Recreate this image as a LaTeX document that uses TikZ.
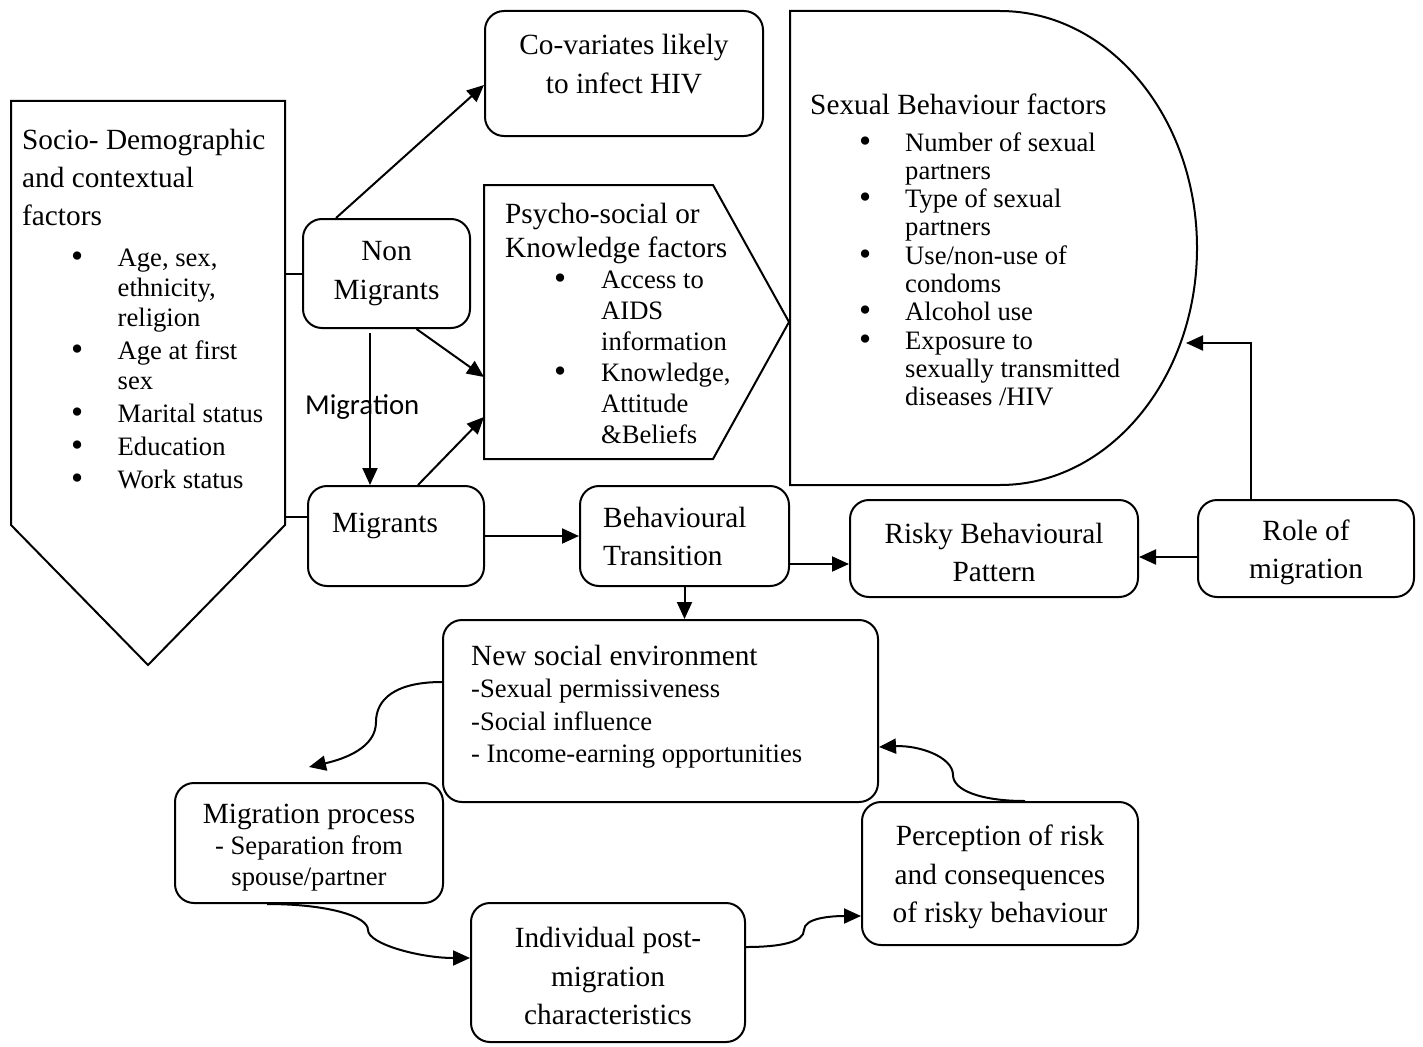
\documentclass[tikz,border=0pt]{standalone}
\usepackage{fontspec}
\setmainfont{Liberation Serif}
\newfontfamily\calibri{Carlito}
\usetikzlibrary{arrows.meta}
\newcommand\bigfs{\fontsize{29.3}{38.5}\selectfont}
\newcommand\smallfs{\fontsize{26.6}{30}\selectfont}
\newcommand\bul{\smash{\raisebox{-0.04em}{\scalebox{1.3}{\textbullet}}}}
\newcommand\tstrut{\rule{0pt}{28pt}}
\tikzset{
  box/.style={draw, rounded corners=19pt, line width=2pt, inner sep=0pt, align=center, font=\bigfs},
  outline/.style={draw, line width=2pt, line join=miter},
  txt/.style={inner sep=0pt, anchor=base west},
  ctxt/.style={inner sep=0pt, anchor=base},
  arr/.style={-{Triangle[length=17pt,width=15pt]}, line width=2pt},
  link/.style={line width=2pt}
}
\begin{document}
\begin{tikzpicture}[x=1pt,y=-1pt]
\useasboundingbox (0,0) rectangle (1423,1046);

% the three big shapes
\draw[outline] (11,101) -- (285,101) -- (285,525) -- (148,665) -- (11,525) -- cycle;
\draw[outline] (484,185) -- (713,185) -- (789,322) -- (713,459) -- (484,459) -- cycle;
\draw[outline] (790,11) -- (1000,11) arc[start angle=90, end angle=-90, x radius=197pt, y radius=237pt] -- (790,485) -- cycle;
\coordinate (sdn) at (285,273.5);
\coordinate (sdm) at (285,517);
\coordinate (psyin1) at (484,377);
\coordinate (psyin2) at (484,417);
\coordinate (sbfin) at (1186,343);

\node[txt] (sdhead) at (22,149) {\bigfs\begin{tabular}[t]{@{}l@{}}Socio- Demographic\\and contextual\\factors\end{tabular}};
\node[txt] (sdlist) at (71,266) {\smallfs\begin{tabular}[t]{@{}p{46.5pt}@{}l@{}}
  \bul & Age, sex,\\ & ethnicity,\\ & religion\\[3pt]
  \bul & Age at first\\ & sex\\[3pt]
  \bul & Marital status\\[3pt]
  \bul & Education\\[3pt]
  \bul & Work status\end{tabular}};

\node[txt] (psyhead) at (505,223) {\fontsize{29.3}{34}\selectfont\begin{tabular}[t]{@{}l@{}}Psycho-social or\\Knowledge factors\end{tabular}};
\node[txt] (psylist) at (554,288) {\fontsize{26.6}{31}\selectfont\begin{tabular}[t]{@{}p{47pt}@{}l@{}}
  \bul & Access to\\ & AIDS\\ & information\\
  \bul & Knowledge,\\ & Attitude\\ & \&Beliefs\end{tabular}};

\node[txt] (sbfhead) at (810,114) {\bigfs Sexual Behaviour factors};
\node[txt] (sbflist) at (859,151) {\fontsize{26.6}{28.3}\selectfont\begin{tabular}[t]{@{}p{46pt}@{}l@{}}
  \bul & Number of sexual\\ & partners\\
  \bul & Type of sexual\\ & partners\\
  \bul & Use/non-use of\\ & condoms\\
  \bul & Alcohol use\\
  \bul & Exposure to\\ & sexually transmitted\\ & diseases /HIV\end{tabular}};

% rounded boxes
\node[box, minimum width=278pt, minimum height=125pt] (cov) at (624,73.5) {};
\node[ctxt] (covtxt) at (624,55) {\bigfs\begin{tabular}[t]{@{}c@{}}Co-variates likely\\to infect HIV\end{tabular}};
\node[box, minimum width=167pt, minimum height=109pt] (nonmig) at (386.5,273.5) {Non\\Migrants};
\node[box, minimum width=176pt, minimum height=100pt] (mig) at (396,536) {};
\node[ctxt] (migtxt) at (385,532) {\bigfs Migrants};
\node[box, minimum width=209pt, minimum height=100pt] (bt) at (684.5,536) {};
\node[txt] (bttxt) at (603,527) {\bigfs\begin{tabular}[t]{@{}l@{}}Behavioural\\Transition\end{tabular}};
\node[box, minimum width=288pt, minimum height=97pt] (risky) at (994,548.5) {\tstrut Risky Behavioural\\Pattern};
\node[box, minimum width=216pt, minimum height=97pt] (role) at (1306,548.5) {\tstrut Role of\\migration};
\node[box, minimum width=435pt, minimum height=182pt] (newsoc) at (660.5,711) {};
\node[txt] (newsoctxt) at (471,665) {\fontsize{26.6}{32.5}\selectfont\begin{tabular}[t]{@{}l@{}}
  {\bigfs New social environment}\\-Sexual permissiveness\\-Social influence\\- Income-earning opportunities\end{tabular}};
\node[box, minimum width=268pt, minimum height=120pt] (migproc) at (309,843) {};
\node[ctxt] (migproctxt) at (309,823) {\fontsize{26.6}{31}\selectfont\begin{tabular}[t]{@{}c@{}}
  {\bigfs Migration process}\\- Separation from\\spouse/partner\end{tabular}};
\node[box, minimum width=274pt, minimum height=139pt] (indiv) at (608,972.5) {\tstrut Individual post-\\migration\\characteristics};
\node[box, minimum width=276pt, minimum height=143pt] (perc) at (1000,873.5) {\tstrut Perception of risk\\and consequences\\of risky behaviour};

\node[inner sep=0pt, anchor=base west, font=\calibri\fontsize{28.8}{34}\selectfont] (miglab) at (305,414) {Migration};

% connectors
\draw[link] (sdn) -- (nonmig.west);
\draw[link] (sdm) -- (sdm -| mig.west);
\draw[arr] ([xshift=-50.5pt]nonmig.north) -- ([yshift=-11.5pt]cov.west);
\draw[arr] ([xshift=30pt]nonmig.south) -- (psyin1);
\draw[arr, shorten <=4pt] ([xshift=-16.5pt]nonmig.south) -- ([xshift=-16.5pt]nonmig.south |- mig.north);
\draw[arr] ([xshift=22pt]mig.north) -- (psyin2);
\draw[arr] (mig.east) -- (bt.west);
\draw[arr] ([yshift=-28pt]bt.east) -- ([yshift=-28pt]bt.east -| risky.west);
\draw[arr] (bt.south) -- (bt.south |- newsoc.north);
\draw[arr] ([yshift=-8.5pt]role.west) -- ([yshift=-8.5pt]role.west -| risky.east);
\draw[arr] ([xshift=-55pt]role.north) |- (sbfin);

% curved connectors of the cycle
\draw[arr] ([yshift=29pt]newsoc.west) .. controls +(-48,0) and +(0,-22) .. (376,722)
  .. controls +(0,26) and +(35,-8) .. ([yshift=15pt]migproc.north);
\draw[arr] ([xshift=-42pt]migproc.south) .. controls +(60,0) and +(0,-14) .. (368,930)
  .. controls +(0,14) and +(-50,0) .. ([yshift=14.5pt]indiv.west);
\draw[arr] ([yshift=25.5pt]indiv.east) .. controls +(35,0) and +(0,12) .. (804,930)
  .. controls +(0,-12) and +(-30,0) .. ([yshift=-42.5pt]perc.west);
\draw[arr] ([xshift=25pt]perc.north) .. controls +(-45,0) and +(0,15) .. (953,775)
  .. controls +(0,-18) and +(40,-2) .. ([yshift=-36pt]newsoc.east);
\end{tikzpicture}
\end{document}
